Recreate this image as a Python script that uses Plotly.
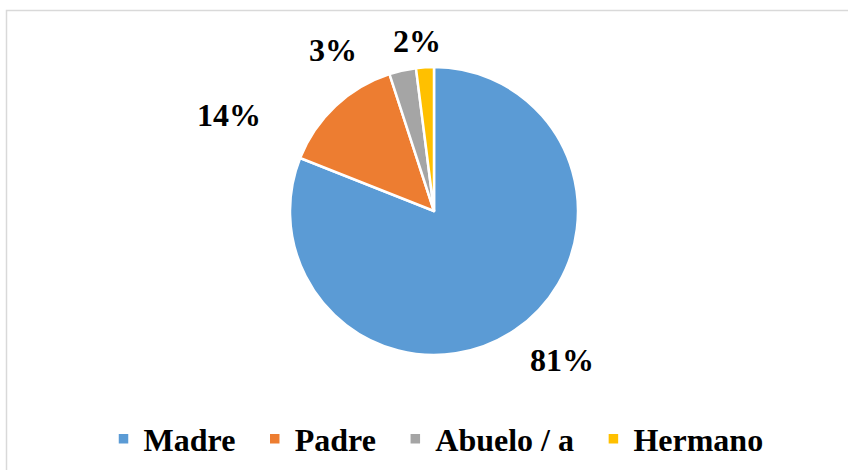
import math
import plotly.graph_objects as go

categories = ["Madre", "Padre", "Abuelo / a", "Hermano"]
values = [81, 14, 3, 2]
colors = ["#5B9BD5", "#ED7D31", "#A5A5A5", "#FFC000"]

W, H = 848, 470
# pie geometry (pixels)
CX, CY, R = 434, 211, 144
# label placement style: pixel shifts from a point at 1.25*R on the slice mid-angle
label_shifts = [(27, 0), (-82, -35), (-62, -15), (-6, -10)]

# legend entries padded with spaces for spacing between items
legend_labels = [c + "\u00a0\u2009" if i < len(categories) - 1 else c
                 for i, c in enumerate(categories)]

fig = go.Figure()
fig.add_trace(go.Pie(
    labels=legend_labels,
    values=values,
    marker=dict(colors=colors, line=dict(color="white", width=2.5)),
    sort=False,
    direction="clockwise",
    rotation=0,
    textinfo="none",
    hoverinfo="label+percent",
    domain=dict(x=[(CX - R) / W, (CX + R) / W], y=[1 - (CY + R) / H, 1 - (CY - R) / H]),
))

total = sum(values)
cum = 0
for v, (xs, ys) in zip(values, label_shifts):
    mid = (cum + v / 2) / total * 2 * math.pi
    cum += v
    px = CX + 1.25 * R * math.sin(mid)
    py = CY - 1.25 * R * math.cos(mid)
    fig.add_annotation(
        x=px / W, y=1 - py / H, xref="paper", yref="paper",
        text=f"{round(v / total * 100)}%", showarrow=False,
        xshift=xs, yshift=ys, xanchor="center", yanchor="middle",
        font=dict(family="Liberation Serif", size=32, color="black", weight="bold"),
    )

# chart border (partially cropped in reference)
fig.add_shape(type="rect", xref="paper", yref="paper",
              x0=6.5 / W, y0=-0.1, x1=1.1, y1=1 - 10.5 / H,
              line=dict(color="#D9D9D9", width=1.5), fillcolor="rgba(0,0,0,0)")

fig.update_layout(
    width=W, height=H,
    margin=dict(l=0, r=0, t=0, b=0),
    paper_bgcolor="white",
    plot_bgcolor="white",
    showlegend=True,
    legend=dict(
        orientation="h", x=436 / W, y=1 - 439 / H,
        xanchor="center", yanchor="middle",
        font=dict(family="Liberation Serif", size=32, color="black", weight="bold"),
        itemwidth=30,
        traceorder="normal",
    ),
)

fig.write_html("out.html", config={"displayModeBar": False},
               post_script="document.body.style.margin='0';document.body.style.overflow='hidden';")
